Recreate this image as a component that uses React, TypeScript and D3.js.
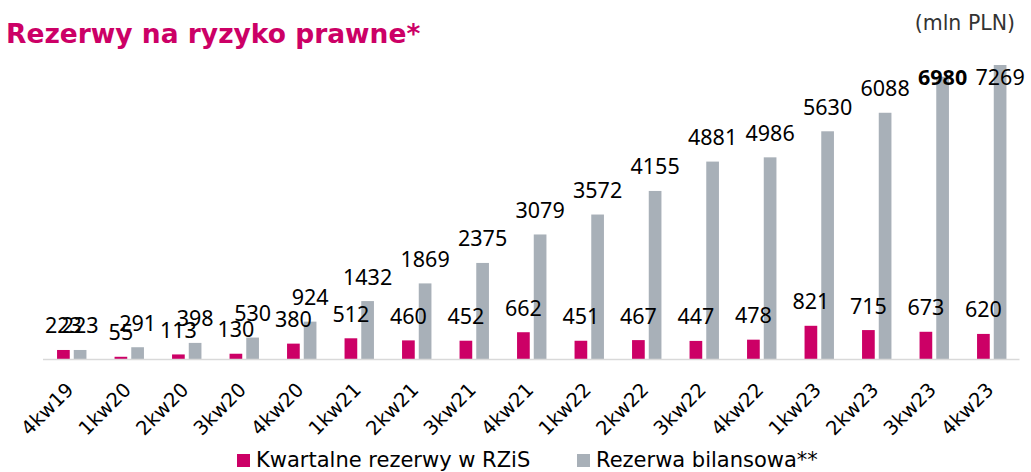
import React from "react";
import * as d3 from "d3";

const categories = [
  "4kw19", "1kw20", "2kw20", "3kw20", "4kw20", "1kw21", "2kw21", "3kw21", "4kw21",
  "1kw22", "2kw22", "3kw22", "4kw22", "1kw23", "2kw23", "3kw23", "4kw23",
];
const kwartalne = [223, 55, 113, 130, 380, 512, 460, 452, 662, 451, 467, 447, 478, 821, 715, 673, 620];
const bilansowa = [223, 291, 398, 530, 924, 1432, 1869, 2375, 3079, 3572, 4155, 4881, 4986, 5630, 6088, 6980, 7269];
const boldCategories = ["3kw23"];

const seriesNames = ["Kwartalne rezerwy w RZiS", "Rezerwa bilansowa**"];
const PINK = "#cc0066";
const GREY = "#a8b0b8";

const width = 1031;
const height = 472;
const margin = { left: 43, right: 10.5, baseline: 359, top: 65 };

export default function App() {
  const x = d3
    .scaleBand()
    .domain(categories)
    .range([margin.left, width - margin.right]);

  const x1 = d3
    .scaleBand()
    .domain(["k", "b"])
    .range([-14.7, 14.7])
    .paddingInner(0.24);

  const y = d3
    .scaleLinear()
    .domain([0, d3.max(bilansowa) as number])
    .range([margin.baseline, margin.top]);

  const labelY = (v: number) => Math.max(y(v) - 16.5, 85);
  const valueFont = "'Noto Sans', sans-serif";
  const textFont = "'DejaVu Sans', sans-serif";

  const rows = categories.map((c, i) => ({ c, k: kwartalne[i], b: bilansowa[i] }));

  return (
    <svg width={width} height={height} style={{ position: "absolute", left: 0, top: 0 }} fontFamily={textFont}>
      <rect width={width} height={height} fill="#fff" />
      <text x={6} y={43} fill={PINK} fontSize={26.5} fontWeight="bold">
        Rezerwy na ryzyko prawne*
      </text>
      <text x={1015} y={30} fill="#333" fontSize={20.5} textAnchor="end">
        (mln PLN)
      </text>

      {rows.map((d) => {
        const cx = (x(d.c) as number) + x.bandwidth() / 2;
        return (
          <g key={d.c}>
            <rect
              x={cx + (x1("k") as number)}
              y={y(d.k)}
              width={x1.bandwidth()}
              height={y(0) - y(d.k)}
              fill={PINK}
            />
            <rect
              x={cx + (x1("b") as number)}
              y={y(d.b)}
              width={x1.bandwidth()}
              height={y(0) - y(d.b)}
              fill={GREY}
            />
          </g>
        );
      })}

      <line x1={margin.left} x2={width - margin.right - 1} y1={359.5} y2={359.5} stroke="#d9d9d9" strokeWidth={1.5} />

      {rows.map((d) => {
        const cx = (x(d.c) as number) + x.bandwidth() / 2;
        return (
          <g key={"l" + d.c} fontSize={21.5} fill="#000" textAnchor="middle" fontFamily={valueFont}>
            <text x={cx + (x1("k") as number) + x1.bandwidth() / 2} y={labelY(d.k)}>
              {d.k}
            </text>
            <text
              x={cx + (x1("b") as number) + x1.bandwidth() / 2}
              y={labelY(d.b)}
              fontWeight={boldCategories.includes(d.c) ? "bold" : "normal"}
            >
              {d.b}
            </text>
          </g>
        );
      })}

      {categories.map((c) => {
        const cx = (x(c) as number) + x.bandwidth() / 2;
        return (
          <text
            key={"t" + c}
            transform={`translate(${cx + 3},391) rotate(-45)`}
            textAnchor="end"
            fontSize={19.5}
            fill="#000"
          >
            {c}
          </text>
        );
      })}

      <g fontSize={21}>
        <rect x={237} y={454} width={13} height={13} fill={PINK} />
        <text x={256} y={467}>{seriesNames[0]}</text>
        <rect x={577} y={454} width={13} height={13} fill={GREY} />
        <text x={596} y={467}>{seriesNames[1]}</text>
      </g>
    </svg>
  );
}
